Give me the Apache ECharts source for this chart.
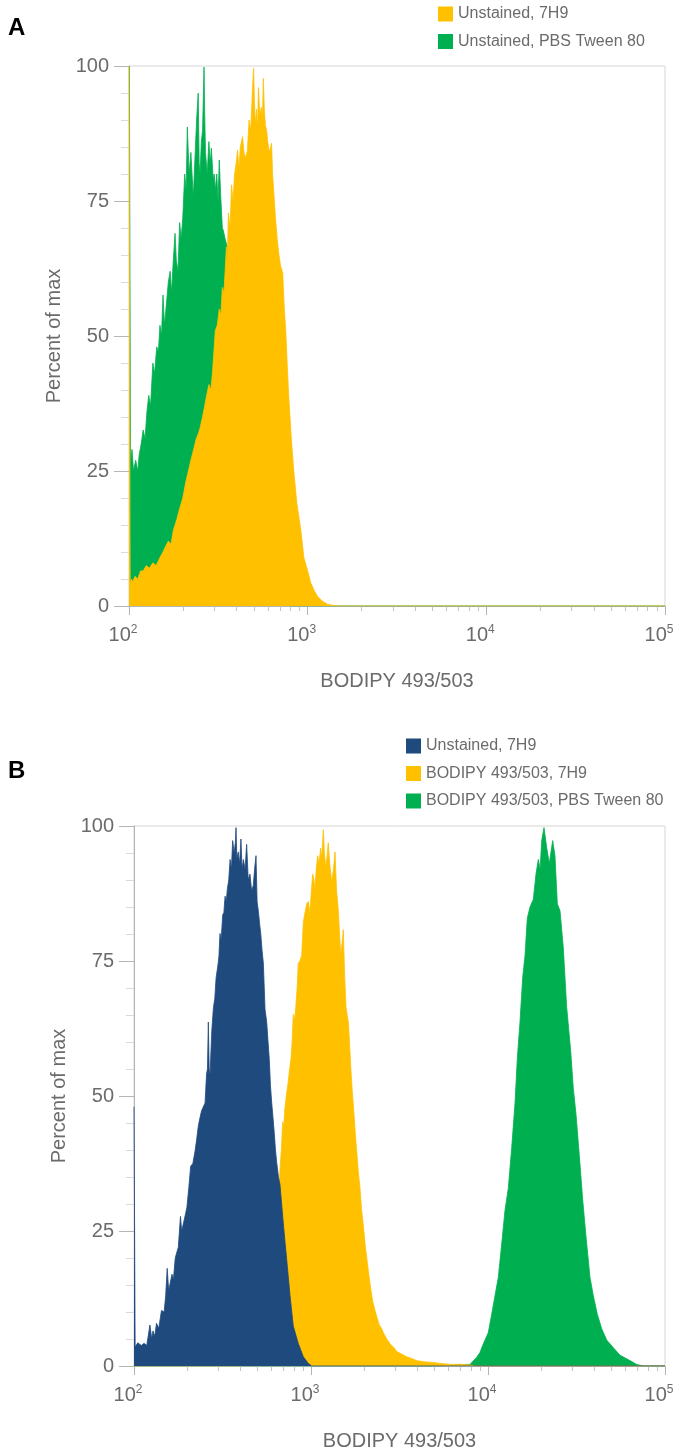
<!DOCTYPE html>
<html>
<head>
<meta charset="utf-8">
<script src="https://cdn.jsdelivr.net/npm/echarts@6/dist/echarts.min.js"></script>
<style>
    body { margin: 0; background: #fff; }
    #chart_a { width: 677px; height: 720px; }
    #chart_b { width: 677px; height: 730px; }
</style>
</head>
<body>
<div id="chart_a"></div>
<div id="chart_b"></div>
<script>
// 横轴刻度 (BODIPY 493/503, 对数)
var minorTickValues = [200, 300, 400, 500, 600, 700, 800, 900,
    2000, 3000, 4000, 5000, 6000, 7000, 8000, 9000,
    20000, 30000, 40000, 50000, 60000, 70000, 80000, 90000]
var yTickValues = [0, 25, 50, 75, 100]

// A: Unstained, 7H9  [荧光强度, percent of max]
var aUnstained7H9 = [[100, 100], [101, 100], [101.5, 4], [103, 5], [105, 4.5], [108, 5.5], [112, 5], [116, 6.5],
    [120, 6.5], [125, 7.5], [130, 7], [136, 8], [142, 7.5], [149, 9], [155, 10], [160, 11], [166, 12], [172, 11.5],
    [177, 14], [185, 16], [192, 18], [200, 20], [208, 23], [215, 25], [222, 27], [230, 29], [238, 31], [245, 32],
    [250, 33], [258, 35], [265, 37], [272, 39], [280, 41], [287, 40], [293, 43], [300, 48], [304, 51], [312, 52],
    [320, 55], [327, 54], [333, 59], [340, 58], [351, 66.5], [355, 64], [360, 72.8], [368, 70], [375, 78], [382, 75],
    [390, 80], [398, 82], [405, 84.4], [412, 81], [420, 85], [432, 86.9], [440, 84], [450, 83], [460, 84.4], [470, 90],
    [480, 88], [490, 95], [498, 99.6], [504, 93], [510, 89.4], [518, 92], [525, 88], [530, 96], [540, 91], [551, 92.4],
    [558, 90], [565, 97.7], [572, 92], [580, 89], [590, 88], [596, 86.3], [610, 84], [628, 85.7], [636, 80], [645, 77],
    [660, 72], [675, 68], [688, 65.4], [705, 63], [725, 61.7], [740, 55], [754, 51], [770, 44], [784, 38.7], [810, 31],
    [836, 25], [870, 19], [916, 14], [952, 9], [1000, 6.5], [1040, 4.3], [1090, 2.8], [1140, 1.7], [1220, 0.8],
    [1296, 0.3], [1400, 0.1], [1530, 0], [100000, 0]]

// A: Unstained, PBS Tween 80
var aUnstainedPBS = [[100.5, 100], [101.5, 100], [102, 27], [104, 29], [106, 25], [109, 27], [112, 25], [114, 28],
    [117, 30], [120, 32.6], [123, 31], [126, 36], [129, 39], [132, 37], [136, 45], [139, 43], [143, 48], [146, 47],
    [149, 52], [152, 50], [155, 57.6], [158, 52], [162, 56], [166, 60], [170, 62], [173, 58], [177, 64], [181, 69],
    [184, 64], [188, 62], [192, 71], [196, 68], [200, 72], [205, 80], [209, 77], [212, 88.7], [217, 80], [222, 84],
    [229, 75.7], [234, 83], [239, 90], [244, 95], [247, 82], [250, 80], [254, 86], [258, 88], [263, 99.8], [264, 100],
    [265, 92], [268, 84], [274, 80], [280, 86], [285, 82], [289, 84.8], [296, 79], [300, 80], [304, 77], [310, 80],
    [315, 75], [320, 82.6], [326, 76], [333, 70], [337, 69.6], [345, 68], [355, 66.5], [370, 55], [400, 40],
    [450, 25], [520, 12], [600, 5], [700, 1], [800, 0], [100000, 0]]

// B: Unstained, 7H9
var bUnstained7H9 = [[100, 48], [101, 48], [101.5, 3.5], [105, 4.3], [110, 3.8], [114, 4.2], [118, 3.8], [123, 7.6],
    [126, 5], [128, 6.5], [131, 5.5], [134, 7.9], [138, 7], [143, 10.3], [148, 10], [151, 13], [154, 18.1], [157, 14],
    [160, 13.7], [164, 17], [167, 16], [171, 20], [174, 20.9], [178, 22], [183, 27.7], [186, 25], [190, 25.3],
    [195, 28], [199, 29.4], [204, 33], [209, 37], [215, 37.5], [221, 39.7], [226, 42], [231, 44.5], [236, 46],
    [241, 47.3], [246, 47], [252, 48.7], [257, 54.1], [260, 55], [263, 63.7], [266, 55], [269, 54], [275, 62],
    [281, 66.4], [286, 68], [291, 71.9], [295, 72], [299, 74.6], [302, 76], [306, 80.1], [311, 79], [317, 83.5],
    [322, 84], [327, 87], [332, 86], [337, 88.4], [343, 90], [349, 93.8], [355, 92], [361, 97.3], [368, 95], [374, 97],
    [377, 99.7], [381, 94], [388, 95.2], [395, 93], [402, 97.6], [408, 92], [415, 93.8], [424, 92], [433, 96.6],
    [442, 90], [452, 91.1], [462, 88], [472, 89], [480, 92], [489, 94.5], [496, 86], [504, 84.3], [512, 82],
    [520, 80.1], [529, 77], [538, 74.6], [550, 66], [562, 63.7], [572, 60], [581, 56.9], [590, 52], [600, 48.7],
    [610, 46], [620, 43.2], [630, 40], [640, 37.7], [655, 35], [668, 33.6], [697, 26.5], [729, 19.7], [761, 13.1],
    [794, 7.4], [847, 4.2], [905, 1.7], [965, 0.5], [1009, 0], [100000, 0]]

// B: BODIPY 493/503, 7H9
var bBodipy7H9 = [[100, 0], [400, 0], [500, 2], [560, 6], [600, 12], [640, 22], [668, 36.4], [680, 40], [692, 45.2],
    [700, 44], [713, 47.9], [725, 50], [744, 52.7], [757, 55], [771, 56.9], [782, 60], [794, 65.1], [808, 64],
    [820, 66.4], [835, 70], [847, 74.6], [866, 75], [886, 76], [895, 79], [905, 82.2], [925, 84], [946, 85.6],
    [966, 86], [987, 84], [1005, 88], [1022, 91.1], [1040, 90], [1053, 88], [1070, 92], [1091, 94.5], [1110, 93],
    [1134, 95.9], [1150, 94], [1174, 99.3], [1190, 95], [1210, 92.5], [1230, 94], [1252, 96.9], [1275, 93],
    [1309, 89.7], [1340, 92], [1367, 95.2], [1395, 88], [1427, 84.3], [1450, 80], [1472, 76], [1495, 78],
    [1522, 80.8], [1550, 72], [1577, 66.4], [1600, 65], [1625, 63.7], [1650, 60], [1676, 55.5], [1710, 51],
    [1750, 46.6], [1780, 43], [1813, 39.7], [1850, 36], [1892, 32.9], [1930, 29], [1975, 26], [2030, 22],
    [2080, 19.2], [2120, 17], [2173, 14.4], [2230, 12], [2299, 10.3], [2360, 9], [2430, 7.6], [2500, 7],
    [2560, 6.2], [2680, 5], [2795, 4.1], [2920, 3.5], [3050, 2.7], [3250, 2.2], [3473, 1.7], [3700, 1.4],
    [3955, 1], [4300, 0.8], [4700, 0.7], [5300, 0.5], [6100, 0.3], [7000, 0.3], [7900, 0.2], [8500, 0], [100000, 0]]

// B: BODIPY 493/503, PBS Tween 80
var bBodipyPBS = [[100, 0], [5000, 0], [6500, 0.2], [7910, 0.3], [8630, 1.6], [9000, 2.5], [9410, 4.1],
    [10040, 6.2], [10490, 9.6], [10950, 13], [11430, 16.4], [11950, 22.6], [12470, 28.8], [13020, 32.9],
    [13610, 40.4], [14210, 48.7], [14640, 56.9], [15160, 63.7], [15700, 71.9], [16180, 76], [16670, 82.9],
    [17270, 85], [18030, 86.4], [18670, 91.1], [19240, 93.8], [19700, 92], [20110, 97.3], [20720, 99.7],
    [21460, 96], [22200, 93.1], [23200, 97.3], [23900, 94.5], [24640, 85.6], [25520, 84.3], [26640, 77.4],
    [27840, 66.4], [29330, 58.3], [30340, 51.4], [31430, 46.6], [32800, 39], [34280, 30.8], [35780, 24],
    [37700, 16.4], [39360, 13], [41450, 9.6], [43890, 6.9], [46840, 4.8], [51050, 3.4], [55690, 2],
    [63430, 1], [69180, 0.3], [75400, 0], [100000, 0]]

var YELLOW = '#ffc000'
var GREEN = '#00b050'
var BLUE = '#1f4a7e'
var GREY_TEXT = '#6b6b6b'
var FONT = '"Liberation Sans", Arial, sans-serif'

// 一条直方图 (面积), z 决定前后顺序
function histSeries(name, data, color, z) {
    return {
        name: name,
        type: 'line',
        data: data,
        z: z,
        symbol: 'none',
        sampling: null,
        silent: true,
        lineStyle: { color: color, width: 0.8 },
        itemStyle: { color: color },
        areaStyle: { color: color, opacity: 1 }
    }
}

// 公共的坐标轴/网格配置
function buildOption(panel, titleTop, grid, legendPos, legendNames, series) {
    return {
        animation: false,
        textStyle: { fontFamily: FONT },
        title: {
            text: panel,
            left: 8,
            top: titleTop,
            padding: 0,
            textStyle: { fontSize: 24, fontWeight: 'bold', color: '#000', fontFamily: FONT }
        },
        legend: {
            data: legendNames,
            orient: 'vertical',
            left: legendPos.left,
            top: legendPos.top,
            padding: 0,
            itemGap: 11.5,
            itemWidth: 15,
            itemHeight: 15,
            icon: 'rect',
            selectedMode: false,
            textStyle: { fontSize: 16, color: GREY_TEXT, lineHeight: 15, fontFamily: FONT }
        },
        grid: {
            left: grid.left,
            top: grid.top,
            width: grid.width,
            height: 540,
            // 不让 v6 为了放下坐标轴名字而缩小网格
            outerBoundsMode: 'none',
            show: true,
            borderColor: '#d6d6d6',
            borderWidth: 1
        },
        xAxis: [
            {
                type: 'log',
                logBase: 10,
                min: 100,
                max: 100000,
                position: 'bottom',
                name: 'BODIPY 493/503',
                nameLocation: 'middle',
                nameGap: 65,
                nameTextStyle: { fontSize: 20, color: GREY_TEXT, fontFamily: FONT },
                axisLine: { lineStyle: { color: '#b5b5b5' } },
                axisTick: { length: 9, lineStyle: { color: '#b5b5b5' } },
                minorTick: { show: false },
                splitLine: { show: false },
                axisLabel: {
                    margin: 18,
                    padding: [0, 12, 0, 0],
                    formatter: function (value) {
                        var e = Math.round(Math.log(value) / Math.LN10)
                        return '{b|10}{s|' + e + '}'
                    },
                    rich: {
                        b: { fontSize: 20, color: GREY_TEXT, lineHeight: 22, fontFamily: FONT },
                        s: { fontSize: 12, color: GREY_TEXT, verticalAlign: 'top', fontFamily: FONT }
                    }
                }
            },
            {
                // 次刻度 (2..9 x 10^n)
                type: 'log',
                logBase: 10,
                min: 100,
                max: 100000,
                position: 'bottom',
                axisLine: { show: false },
                axisLabel: { show: false },
                splitLine: { show: false },
                axisTick: { show: true, length: 5, customValues: minorTickValues, lineStyle: { color: '#c4c4c4' } }
            }
        ],
        yAxis: {
            type: 'value',
            min: 0,
            max: 100,
            interval: 25,
            name: 'Percent of max',
            nameLocation: 'middle',
            nameGap: 64,
            nameTextStyle: { fontSize: 20, color: GREY_TEXT, fontFamily: FONT },
            axisLine: { show: true, lineStyle: { color: '#b5b5b5' } },
            axisTick: { show: true, length: 15, lineStyle: { color: '#b5b5b5' } },
            minorTick: { show: true, splitNumber: 5, length: 8, lineStyle: { color: '#dadada' } },
            splitLine: { show: false },
            axisLabel: {
                margin: 20,
                fontSize: 20,
                color: GREY_TEXT,
                fontFamily: FONT,
                customValues: yTickValues
            }
        },
        series: series
    }
}

// 图 A
var chartA = echarts.init(document.getElementById('chart_a'))
chartA.setOption(buildOption('A', 16,
    { left: 129, top: 66, width: 536 },
    { left: 438, top: 6 },
    ['Unstained, 7H9', 'Unstained, PBS Tween 80'],
    [
        // 绿色在后, 黄色在前
        histSeries('Unstained, PBS Tween 80', aUnstainedPBS, GREEN, 2),
        histSeries('Unstained, 7H9', aUnstained7H9, YELLOW, 3)
    ]))

// 图 B
var chartB = echarts.init(document.getElementById('chart_b'))
chartB.setOption(buildOption('B', 39,
    { left: 134, top: 106, width: 531 },
    { left: 406, top: 18 },
    ['Unstained, 7H9', 'BODIPY 493/503, 7H9', 'BODIPY 493/503, PBS Tween 80'],
    [
        histSeries('BODIPY 493/503, PBS Tween 80', bBodipyPBS, GREEN, 2),
        histSeries('BODIPY 493/503, 7H9', bBodipy7H9, YELLOW, 3),
        histSeries('Unstained, 7H9', bUnstained7H9, BLUE, 4)
    ]))
</script>
</body>
</html>
